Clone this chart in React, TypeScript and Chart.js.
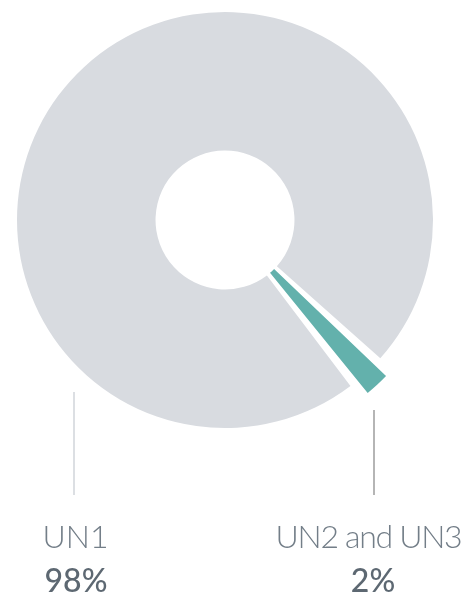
import React, { useEffect, useRef } from "react";
import { Chart, registerables } from "chart.js";

Chart.register(...registerables);

const categories = ["UN1", "UN2 and UN3"];
const shares = [98, 2];
const valueLabels = ["98%", "2%"];
const colors = ["#d8dbe0", "#63b1ac"];

const DEG = Math.PI / 180;

const slicePlugin = {
  id: "sliceTweak",
  afterDatasetsUpdate(chart: any) {
    const meta = chart.getDatasetMeta(0);
    const gray = meta.data[0];
    const teal = meta.data[1];
    if (!gray || !teal) return;
    const pad = 2 * DEG;
    gray.startAngle += pad;
    gray.endAngle -= pad;
    const mid = (teal.startAngle + teal.endAngle) / 2;
    const R = gray.outerRadius;
    const shift = R * 0.1215;
    teal.x = gray.x + Math.cos(mid) * shift;
    teal.y = gray.y + Math.sin(mid) * shift;
    teal.outerRadius = R * 0.957;
    teal.innerRadius = gray.innerRadius - shift;
  },
};

const labelPlugin = {
  id: "bottomLabels",
  afterDraw(chart: any) {
    const ctx = chart.ctx;
    const items = [
      { lineX: 74, lineTop: 392, lineColor: "#dcdfe3", nameX: 75.5, valueX: 76, spacing: "0px" },
      { lineX: 374, lineTop: 410, lineColor: "#b5b5b5", nameX: 368.5, valueX: 373, spacing: "-1.3px" },
    ];
    ctx.save();
    items.forEach((it, i) => {
      ctx.strokeStyle = it.lineColor;
      ctx.lineWidth = 2;
      ctx.beginPath();
      ctx.moveTo(it.lineX, it.lineTop);
      ctx.lineTo(it.lineX, 495);
      ctx.stroke();
      ctx.textAlign = "center";
      ctx.textBaseline = "alphabetic";
      ctx.fillStyle = "#737e88";
      ctx.font = "300 32px Lato";
      (ctx as any).letterSpacing = it.spacing;
      ctx.fillText(categories[i], it.nameX, 548);
      (ctx as any).letterSpacing = "0px";
      ctx.fillStyle = "#5d6872";
      ctx.font = "500 32px Lato";
      ctx.fillText(valueLabels[i], it.valueX, 592);
    });
    ctx.restore();
  },
};

export default function App() {
  const ref = useRef<HTMLCanvasElement>(null);
  useEffect(() => {
    if (!ref.current) return;
    const chart = new Chart(ref.current, {
      type: "doughnut",
      data: {
        labels: categories,
        datasets: [
          {
            data: shares,
            backgroundColor: colors,
            borderWidth: 0,
            hoverOffset: 0,
          },
        ],
      },
      options: {
        animation: false,
        responsive: false,
        maintainAspectRatio: false,
        cutout: "33.4%",
        rotation: 140.9,
        layout: { padding: { left: 17, right: 39, top: 12, bottom: 168 } },
        plugins: {
          legend: { display: false },
          tooltip: { enabled: false },
        },
        events: [],
      },
      plugins: [slicePlugin, labelPlugin],
    });
    return () => chart.destroy();
  }, []);
  return (
    <div style={{ position: "fixed", left: 0, top: 0, width: 472, height: 596, background: "#fff" }}>
      <canvas ref={ref} width={472} height={596} style={{ width: 472, height: 596, display: "block" }} />
    </div>
  );
}
